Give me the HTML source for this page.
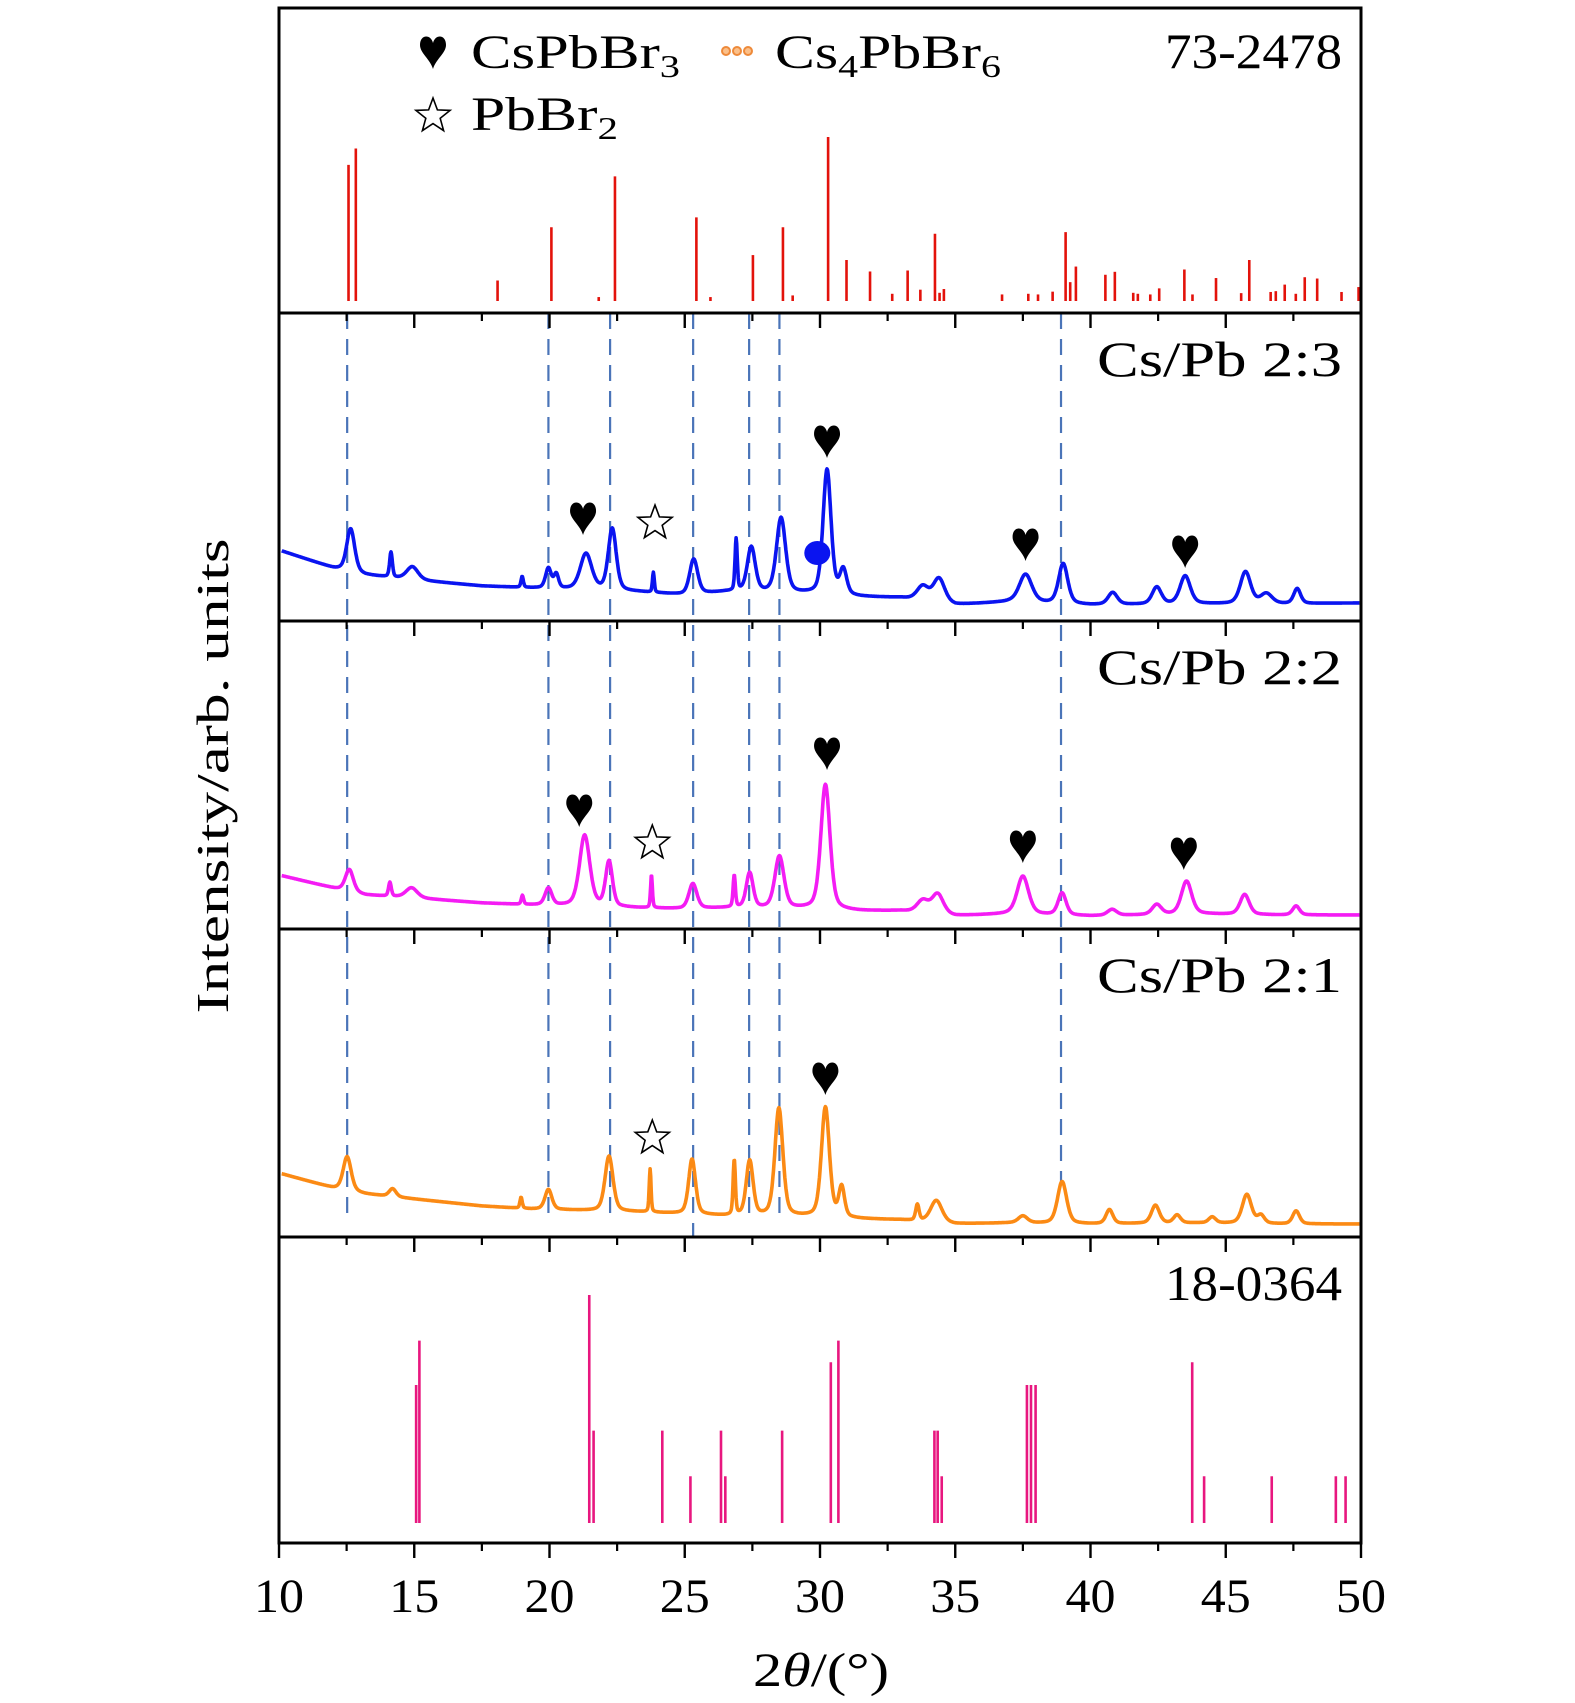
<!DOCTYPE html>
<html><head><meta charset="utf-8">
<style>
html,body{margin:0;padding:0;background:#fff;}
svg{display:block;}
text{font-family:"Liberation Serif","DejaVu Serif",serif;fill:#000;}
</style></head>
<body>
<svg id="chart" width="1575" height="1703" viewBox="0 0 1575 1703" xmlns="http://www.w3.org/2000/svg">
  <g id="marks"></g>
  <g id="frame"></g>
  <g id="labels">
    <text x="1165" y="68" font-size="50" textLength="177" lengthAdjust="spacingAndGlyphs">73-2478</text>
    <text x="1097" y="376" font-size="50" textLength="245" lengthAdjust="spacingAndGlyphs">Cs/Pb 2:3</text>
    <text x="1097" y="684" font-size="50" textLength="245" lengthAdjust="spacingAndGlyphs">Cs/Pb 2:2</text>
    <text x="1097" y="992" font-size="50" textLength="245" lengthAdjust="spacingAndGlyphs">Cs/Pb 2:1</text>
    <text x="1165" y="1300" font-size="50" textLength="177" lengthAdjust="spacingAndGlyphs">18-0364</text>
    <text x="753" y="1686" font-size="48" textLength="136" lengthAdjust="spacingAndGlyphs">2<tspan font-style="italic">θ</tspan>/(°)</text>
    <text transform="translate(228,776) rotate(-90)" font-size="46" text-anchor="middle" textLength="475" lengthAdjust="spacingAndGlyphs">Intensity/arb. units</text>
    <g>
      <path transform="translate(433,51)" d="M0,-8 C-2,-17 -13,-17 -13,-6 C-13,2 -3,8 0,18 C3,8 13,2 13,-6 C13,-17 2,-17 0,-8Z" fill="#000"/>
      <text x="471" y="68" font-size="48" textLength="209" lengthAdjust="spacingAndGlyphs">CsPbBr<tspan font-size="32" dy="9">3</tspan></text>
      <g fill="#fbc08a" stroke="#ee8a3a" stroke-width="2">
        <circle cx="726" cy="51" r="4"/><circle cx="737" cy="51" r="4"/><circle cx="748" cy="51" r="4"/>
      </g>
      <text x="775" y="68" font-size="48" textLength="226" lengthAdjust="spacingAndGlyphs">Cs<tspan font-size="32" dy="9">4</tspan><tspan dy="-9">PbBr</tspan><tspan font-size="32" dy="9">6</tspan></text>
      <g id="legendStar"></g>
      <text x="471" y="130" font-size="48" textLength="147" lengthAdjust="spacingAndGlyphs">PbBr<tspan font-size="32" dy="9">2</tspan></text>
    </g>
  </g>
</svg>
<script>
// ---------- data ----------
const xTickLabels = [10, 15, 20, 25, 30, 35, 40, 45, 50];
const xMinorTicks = [12.5, 17.5, 22.5, 27.5, 32.5, 37.5, 42.5, 47.5];
const dashPos = [12.52, 19.96, 22.24, 25.31, 27.38, 28.5, 38.91];

const ref73Pos = [12.57,12.84,18.08,20.07,21.82,22.42,25.43,25.95,27.52,28.63,28.99,30.3,30.98,31.85,32.67,33.24,33.71,34.25,34.42,34.58,36.73,37.7,38.06,38.6,39.08,39.25,39.46,40.55,40.9,41.58,41.75,42.21,42.54,43.47,43.77,44.64,45.57,45.87,46.66,46.85,47.18,47.59,47.92,48.38,49.28,49.91];
const ref73Int = [83,93,12.5,45,2.4,76,51,2.4,28,45,3.4,100,25,18,4.4,18.6,6.9,41,5,7.3,4,4.4,4,5.7,42,11.5,21,16,17.8,5,4.4,4,7.7,19.2,4,14,4.8,25,5.5,6,10,4.4,14.5,13.7,5.5,8.5];

const ref18Pos = [15.07,15.19,21.47,21.63,24.17,25.21,26.34,26.5,28.6,30.4,30.68,34.23,34.35,34.5,37.65,37.8,37.97,43.76,44.2,46.7,49.07,49.43];
const ref18Int = [60.5,80,100,40.5,40.5,20.5,40.5,20.5,40.5,70.5,80,40.5,40.5,20.5,60.5,60.5,60.5,70.5,20.5,20.5,20.5,20.5];

// Cs/Pb 2:3 (blue)
const blueBaseX = [10,12,13.2,15,17.5,19.3,23.3,25,26.5,29.5,31.5,33,35,37,40,44,47,50];
const blueBaseY = [70,52,45,40,34,32,28,25,28,26,23,22,15,18,15,16,16,17];
const bluePeakPos = [12.65,14.14,14.93,18.99,19.96,20.25,21.35,22.32,23.84,25.33,26.9,27.46,28.56,30.26,30.86,33.8,34.4,37.6,38.99,40.82,42.45,43.5,45.73,46.5,47.64];
const bluePeakH = [43,25,13,11,20,14,36,62,20,35,52,45,75,125,25,14,24,28,40,12,17,28,32,10,15];
const bluePeakW = [0.35,0.12,0.5,0.1,0.25,0.2,0.5,0.35,0.08,0.35,0.1,0.35,0.4,0.35,0.3,0.5,0.5,0.55,0.4,0.4,0.4,0.45,0.45,0.5,0.3];

// Cs/Pb 2:2 (magenta)
const magBaseX = [10,12,13.2,15,17.5,19.3,23.3,25,26.5,29.5,31.5,33,35,37,40,44,47,50];
const magBaseY = [53,40,33,30,25,23,20,19,20,19,17,17,12,14,12,14,13,13];
const magPeakPos = [12.6,14.1,14.9,19.0,19.96,21.3,22.2,23.77,25.3,26.83,27.4,28.5,30.2,33.8,34.35,37.5,38.95,40.8,42.45,43.55,45.7,47.6];
const magPeakH = [22,14,10,9,17,71,45,33,25,32,35,52,125,12,20,38,22,6,10,33,20,9];
const magPeakW = [0.35,0.12,0.5,0.1,0.3,0.45,0.3,0.08,0.35,0.1,0.3,0.4,0.4,0.5,0.5,0.5,0.35,0.4,0.4,0.45,0.4,0.3];

// Cs/Pb 2:1 (orange)
const orBaseX = [10,12,13.2,15,17.5,19.3,23.3,25,26.5,29.5,31.5,33,35,37,40,44,47,50];
const orBaseY = [63,48,42,37,30,27,24,22,20,19,17,16,12,13,12,13,12,12];
const orPeakPos = [12.52,14.2,18.95,19.96,22.2,23.72,25.27,26.83,27.4,28.48,30.2,30.8,33.6,34.3,37.5,38.95,40.7,42.4,43.2,44.5,45.78,46.3,47.6];
const orPeakH = [34,8,11,20,55,43,55,55,55,108,110,30,16,22,7,42,14,18,8,6,29,8,13];
const orPeakW = [0.35,0.3,0.1,0.3,0.35,0.08,0.3,0.1,0.3,0.35,0.35,0.25,0.15,0.5,0.4,0.4,0.3,0.35,0.3,0.3,0.4,0.3,0.3];

// markers
const heartPos = [21.24, 30.26, 37.6, 43.5, 21.1, 30.26, 37.5, 43.45, 30.2];
const heartPanel = [1, 1, 1, 1, 2, 2, 2, 2, 3];
const heartY = [517, 440, 543, 550, 809, 752, 845, 852, 1077];
const starPos = [23.9, 23.8, 23.8];
const starY = [523, 843, 1138];
const dotPos = [29.9];
const dotY = [553];

// ---------- layout ----------
const X0 = 279, X1 = 1361;
const panelBot = [313, 621, 929, 1237, 1543];
const NS = 'http://www.w3.org/2000/svg';
function xs(v){ return X0 + (v - 10) / 40 * (X1 - X0); }
function el(tag, attrs, parent){
  const e = document.createElementNS(NS, tag);
  for (const k in attrs) e.setAttribute(k, attrs[k]);
  parent.appendChild(e); return e;
}
const marks = document.getElementById('marks');
const frame = document.getElementById('frame');

// dashed guide lines
dashPos.forEach((d, i) => {
  const endY = d > 38 ? 1182 : (Math.abs(d - 25.31) < 0.1 ? 1237 : 1213);
  const ln = el('line', {x1: xs(d), x2: xs(d), y1: 313, y2: endY, stroke: '#4a74b8', 'stroke-width': 2.2, 'stroke-dasharray': '16,10'}, marks);
  
  
});

// stick patterns
function sticks(pos, ints, base, scale, color, name){
  const g = el('g', {}, marks);
  
  
  pos.forEach((p, i) => {
    const s = el('line', {x1: xs(p), x2: xs(p), y1: base, y2: base - ints[i] * scale, stroke: color, 'stroke-width': 2.6}, g);
    
    
  });
}
sticks(ref73Pos, ref73Int, 301, 1.64, '#e3120b', 'reference-73-2478-sticks');
sticks(ref18Pos, ref18Int, 1523, 2.28, '#e8177f', 'reference-18-0364-sticks');

// curves
function interp(xa, ya, x){
  if (x <= xa[0]) return ya[0];
  for (let i = 1; i < xa.length; i++) if (x <= xa[i]) {
    const t = (x - xa[i-1]) / (xa[i] - xa[i-1]); return ya[i-1] + t * (ya[i] - ya[i-1]);
  }
  return ya[ya.length - 1];
}
function curve(bx, by, pp, ph, pw, bottom, color, name){
  let d = '';
  for (let x = 10.1; x <= 49.95; x += 0.02) {
    let v = interp(bx, by, x);
    for (let i = 0; i < pp.length; i++) {
      const dx = (x - pp[i]) / (pw[i] / 2);
      v += ph[i] * (0.6 * Math.exp(-0.693 * dx * dx) + 0.4 / (1 + dx * dx));
    }
    d += (d ? 'L' : 'M') + xs(x).toFixed(1) + ',' + (bottom - v).toFixed(1);
  }
  const p = el('path', {d: d, fill: 'none', stroke: color, 'stroke-width': 3.6, 'stroke-linejoin': 'round'}, marks);
  
  
}
curve(blueBaseX, blueBaseY, bluePeakPos, bluePeakH, bluePeakW, 620, '#0a14f0', 'series-cspb-2-3');
curve(magBaseX, magBaseY, magPeakPos, magPeakH, magPeakW, 928, '#f41cf4', 'series-cspb-2-2');
curve(orBaseX, orBaseY, orPeakPos, orPeakH, orPeakW, 1236, '#fb8a14', 'series-cspb-2-1');

// markers
const HEART = 'M0,-8 C-2,-17 -13,-17 -13,-6 C-13,2 -3,8 0,18 C3,8 13,2 13,-6 C13,-17 2,-17 0,-8Z';
heartPos.forEach((p, i) => {
  const h = el('path', {d: HEART, transform: 'translate(' + xs(p) + ',' + heartY[i] + ')', fill: '#000'}, marks);
  
  
});
function starPath(cx, cy, R){
  const r = R * 0.42; let d = '';
  for (let k = 0; k < 10; k++) {
    const a = -Math.PI / 2 + k * Math.PI / 5, rr = k % 2 ? r : R;
    d += (k ? 'L' : 'M') + (cx + rr * Math.cos(a)).toFixed(1) + ',' + (cy + rr * Math.sin(a)).toFixed(1);
  }
  return d + 'Z';
}
starPos.forEach((p, i) => {
  const s = el('path', {d: starPath(xs(p), starY[i], 18), fill: '#fff', stroke: '#000', 'stroke-width': 1.6}, marks);
  
  
});
const ls = el('path', {d: starPath(433, 116, 18), fill: '#fff', stroke: '#000', 'stroke-width': 1.6}, document.getElementById('legendStar'));


dotPos.forEach((p, i) => {
  const c = el('ellipse', {cx: xs(p), cy: dotY[i], rx: 13, ry: 12, fill: '#0a14f0'}, marks);
  
  
});

// frame & ticks
const box = el('rect', {x: X0, y: 8, width: X1 - X0, height: 1543 - 8, fill: 'none', stroke: '#000', 'stroke-width': 3}, frame);


panelBot.forEach((yb, pi) => {
  const ax = el('line', {x1: X0, x2: X1, y1: yb, y2: yb, stroke: '#000', 'stroke-width': 3}, frame);
  
  
  xTickLabels.forEach(t => {
    const tk = el('line', {x1: xs(t), x2: xs(t), y1: yb, y2: yb + 15, stroke: '#000', 'stroke-width': 2.4}, frame);
    
    
  });
  xMinorTicks.forEach(t => {
    const tk = el('line', {x1: xs(t), x2: xs(t), y1: yb, y2: yb + 8, stroke: '#000', 'stroke-width': 2.2}, frame);
    
    
  });
});
xTickLabels.forEach(t => {
  const tl = el('text', {x: xs(t) - 25, y: 1612, 'font-size': 48, textLength: 50, lengthAdjust: 'spacingAndGlyphs'}, frame);
  tl.textContent = String(t);
  
  
});
</script>
</body></html>
